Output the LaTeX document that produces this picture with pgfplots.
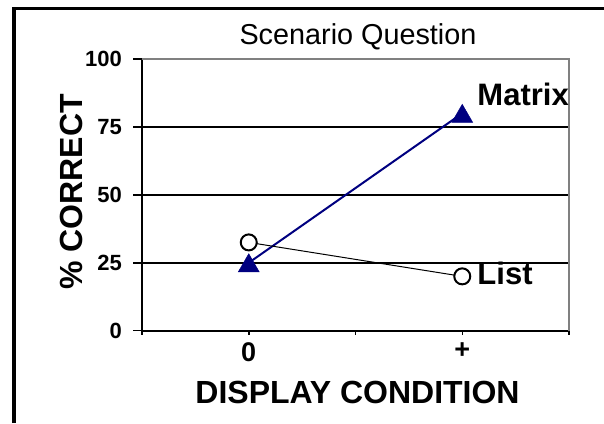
\documentclass[border=0pt]{standalone}
\usepackage{pgfplots}
\pgfplotsset{compat=1.18}
\usepackage{fontspec}
\setmainfont{Liberation Sans}
\definecolor{navyline}{RGB}{0,0,128}
\definecolor{frameg}{RGB}{128,128,128}
\begin{document}
\begin{tikzpicture}[x=1pt,y=1pt]
\useasboundingbox (0,0) rectangle (604,423);
\fill[white] (0,0) rectangle (604,423);
% outer frame (left and top only)
\draw[line width=4pt] (14,0) -- (14,414);
\draw[line width=3pt] (12,414) -- (604,414);
\begin{axis}[
  at={(142pt,92.3pt)}, anchor=south west,
  scale only axis, width=427pt, height=271.7pt,
  xmin=0, xmax=2, ymin=0, ymax=100,
  axis lines*=left,
  axis line style={line width=2pt, -},
  xtick={0,1,2}, xticklabels={},
  ytick={0,25,50,75,100},
  tick align=outside,
  major tick length=9pt,
  xtick style={/pgfplots/major tick length=4pt, line width=1.5pt, black},
  ytick style={line width=1.5pt, black},
  ymajorgrids, grid style={black, line width=2pt},
  extra x ticks={0.5,1.5}, extra x tick labels={0,+},
  extra x tick style={/pgfplots/major tick length=0pt, grid=none},
  yticklabel style={font=\fontsize{22}{22}\selectfont\bfseries, inner sep=0pt, xshift=-11pt},
  xticklabel style={font=\fontsize{27}{27}\selectfont\bfseries, inner sep=0pt, yshift=-12pt},
  /pgf/number format/assume math mode=true,
  clip=false,
]
\addplot[navyline, line width=2pt, mark=triangle*, mark size=12pt,
  mark options={fill=navyline, draw=navyline, line width=0.5pt, yshift=-3pt}]
  coordinates {(0.5,25) (1.5,80)};
\addplot[black, line width=1pt, mark=*, mark size=8pt,
  mark options={fill=white, draw=black, line width=2pt}]
  coordinates {(0.5,32.5) (1.5,20)};
\draw[frameg, line width=2pt] (rel axis cs:0,1) -- (rel axis cs:1,1) -- (rel axis cs:1,0);
\node[anchor=base west, inner sep=0pt, xshift=15pt, yshift=8pt,
  font=\fontsize{31}{31}\selectfont\bfseries] at (axis cs:1.5,80) {Matrix};
\node[anchor=base west, inner sep=0pt, xshift=15pt, yshift=-8.6pt,
  font=\fontsize{31}{31}\selectfont\bfseries] at (axis cs:1.5,20) {List};
\end{axis}
\node[font=\fontsize{28.8}{29}\selectfont] at (358,386) {Scenario Question};
\node[font=\fontsize{32}{32}\selectfont\bfseries] at (357.5,31) {DISPLAY CONDITION};
\node[font=\fontsize{32}{32}\selectfont\bfseries, rotate=90] at (71,231) {\% CORRECT};
\end{tikzpicture}
\end{document}
